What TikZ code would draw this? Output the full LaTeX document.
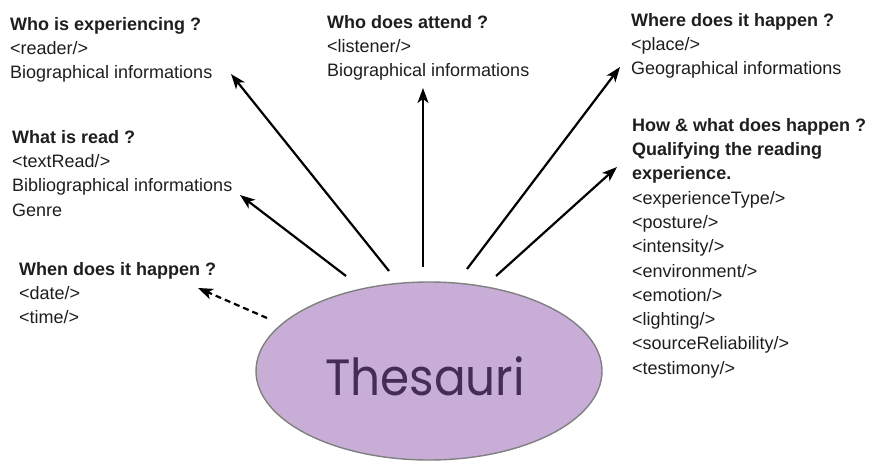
\documentclass[tikz,border=0pt]{standalone}
\usepackage{fontspec}
\setmainfont{Liberation Sans}
\newfontfamily\popfont{Poppins}
\usetikzlibrary{arrows.meta,shapes.geometric}
\definecolor{ellfill}{HTML}{C8AED6}
\definecolor{ellline}{HTML}{808080}
\definecolor{thtext}{HTML}{432D55}
\definecolor{bodytext}{HTML}{1E1E1E}
\tikzset{
  block/.style={anchor=north west, inner sep=0pt, align=left, text=bodytext,
    font=\fontsize{18pt}{24.3pt}\selectfont},
  arr/.style={line width=2.2pt, -{Stealth[length=15pt,width=11pt,inset=4pt]}},
  darr/.style={arr, dash pattern=on 6pt off 4pt},
}
\begin{document}
\begin{tikzpicture}[x=1pt,y=-1pt]
\useasboundingbox (0,0) rectangle (869,462);
\node[ellipse, draw=ellline, line width=1.4pt, fill=ellfill, minimum width=346pt, minimum height=178pt, inner sep=0pt] (th) at (429,371) {};
\node[text=thtext, font=\popfont\fontsize{51pt}{56pt}\selectfont, inner sep=0pt] (tht) at (425,376) {\scalebox{0.92}[1]{Thesauri}};

\node[block] (exp) at (10,17) {\textbf{Who is experiencing ?}\\<reader/>\\Biographical informations};
\node[block] (read) at (12,130) {\textbf{What is read ?}\\<textRead/>\\Bibliographical informations\\Genre};
\node[block] (when) at (19,262) {\textbf{When does it happen ?}\\<date/>\\<time/>};
\node[block] (att) at (327,15) {\textbf{Who does attend ?}\\<listener/>\\Biographical informations};
\node[block] (where) at (631,13) {\textbf{Where does it happen ?}\\<place/>\\Geographical informations};
\node[block] (how) at (632,118) {\textbf{How \& what does happen ?}\\\textbf{Qualifying the reading}\\\textbf{experience.}\\<experienceType/>\\<posture/>\\<intensity/>\\<environment/>\\<emotion/>\\<lighting/>\\<sourceReliability/>\\<testimony/>};

\coordinate (s1) at (346,276); \coordinate (e1) at (240,195);
\coordinate (s2) at (389,271); \coordinate (e2) at (231,74);
\coordinate (s3) at (423,267); \coordinate (e3) at (423,88);
\coordinate (s4) at (467,269); \coordinate (e4) at (620,67);
\coordinate (s5) at (496,276); \coordinate (e5) at (617,167);
\coordinate (s6) at (267,318); \coordinate (e6) at (198,288);

\draw[arr] (s1) -- (e1);
\draw[arr] (s2) -- (e2);
\draw[arr] (s3) -- (e3);
\draw[arr] (s4) -- (e4);
\draw[arr] (s5) -- (e5);
\draw[darr] (s6) -- (e6);
\end{tikzpicture}
\end{document}
